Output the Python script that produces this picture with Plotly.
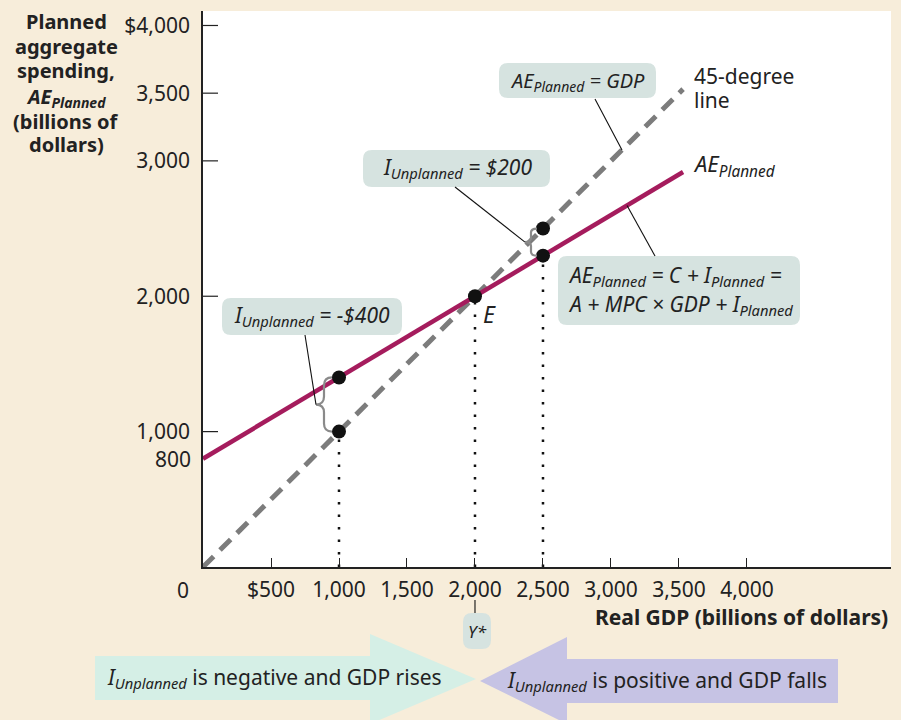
import plotly.graph_objects as go

# ---------------- data ----------------
line45_x = [0, 3530]
line45_y = [0, 3530]
ae_x = [0, 3530]
ae_y = [800, 2918]
point_x = [1000, 1000, 2000, 2500, 2500]
point_y = [1400, 1000, 2000, 2300, 2500]
drop_x = [1000, 2000, 2500]
drop_top = [1000, 2000, 2300]
ytick_vals = [1000, 2000, 3000, 3500, 4000]
ytick_text = ["1,000", "2,000", "3,000", "3,500", "$4,000"]
xtick_vals = [500, 1000, 1500, 2000, 2500, 3000, 3500, 4000]
xtick_text = ["$500", "1,000", "1,500", "2,000", "2,500", "3,000", "3,500", "4,000"]
brace_pairs = [(1000, 1000, 1400), (2500, 2300, 2500)]

# ---------------- layout geometry ----------------
W, H = 901, 720
L, R, T, B = 203, 891, 11, 567
XMAX = 5059
YMAX = 4107

FONT = "Noto Sans, Lato, sans-serif"
FS = 21
BG = "#f7edda"
BOX = "#d6e3e0"
MINT = "#d5efe6"
LAV = "#c6c3e4"
MAG = "#a51c5d"
GRAY = "#7c7c7c"
BRACE = "#8a8a8a"


def xp(px):
    return (px - L) / (R - L)


def yp(py):
    return (B - py) / (B - T)


def xd(x):
    return x / XMAX


def yd(y):
    return y / YMAX


def pxs(n):  # pixel length in x paper units
    return n / (R - L)


def pys(n):
    return n / (B - T)


def rrect(x0, y0, x1, y1, r=9):
    def P(x, y):
        return f"{xp(x):.5f},{yp(y):.5f}"
    return (f"M {P(x0 + r, y0)} L {P(x1 - r, y0)} Q {P(x1, y0)} {P(x1, y0 + r)} "
            f"L {P(x1, y1 - r)} Q {P(x1, y1)} {P(x1 - r, y1)} L {P(x0 + r, y1)} "
            f"Q {P(x0, y1)} {P(x0, y1 - r)} L {P(x0, y0 + r)} Q {P(x0, y0)} {P(x0 + r, y0)} Z")


def poly(pts):
    return "M " + " L ".join(f"{xp(x):.5f},{yp(y):.5f}" for x, y in pts) + " Z"


def brace(x, ya, yb, off):
    e, s, t, r = off
    X = xd(x)
    ya_, yb_ = yd(ya), yd(yb)
    ym = (ya_ + yb_) / 2
    xe, xs, xt = X - pxs(e), X - pxs(s), X - pxs(t)
    rr = pys(r)
    P = lambda a, b: f"{a:.5f},{b:.5f}"
    return (f"M {P(xe, yb_)} Q {P(xs, yb_)} {P(xs, yb_ - rr)} L {P(xs, ym + rr)} "
            f"Q {P(xs, ym)} {P(xt, ym)} Q {P(xs, ym)} {P(xs, ym - rr)} "
            f"L {P(xs, ya_ + rr)} Q {P(xs, ya_)} {P(xe, ya_)}")


fig = go.Figure()

fig.add_trace(go.Scatter(x=line45_x, y=line45_y, mode="lines",
                         line=dict(color=GRAY, width=5, dash="15px,9px"),
                         hoverinfo="skip", showlegend=False))
for x, yt in zip(drop_x, drop_top):
    fig.add_trace(go.Scatter(x=[x, x], y=[0, yt], mode="lines",
                             line=dict(color="#111", width=2.5, dash="2.5px,10px"),
                             hoverinfo="skip", showlegend=False))
fig.add_trace(go.Scatter(x=ae_x, y=ae_y, mode="lines",
                         line=dict(color=MAG, width=4.5),
                         hoverinfo="skip", showlegend=False))
fig.add_trace(go.Scatter(x=point_x, y=point_y, mode="markers",
                         marker=dict(color="#111", size=14),
                         hoverinfo="skip", showlegend=False))

shapes = []
# inside y tick marks
for v in ytick_vals:
    shapes.append(dict(type="line", xref="paper", yref="y", x0=0, x1=pxs(15), y0=v, y1=v,
                       line=dict(color="#222", width=1.2), layer="above"))

offs = {1000: (7, 15, 23, 8), 2500: (6, 12, 18, 4)}
for x, ya, yb in brace_pairs:
    shapes.append(dict(type="path", xref="paper", yref="paper",
                       path=brace(x, ya, yb, offs[x]),
                       line=dict(color=BRACE, width=2.2), layer="above"))

boxes = [(499, 63, 656, 98), (363, 150, 550, 187), (558, 256, 800, 325),
         (222, 298, 402, 335), (463, 613, 491, 649)]
for b in boxes:
    shapes.append(dict(type="path", xref="paper", yref="paper", path=rrect(*b),
                       fillcolor=BOX, line=dict(width=0), layer="above"))


def seg(x0, y0, x1, y1):
    shapes.append(dict(type="line", xref="paper", yref="paper",
                       x0=x0, y0=y0, x1=x1, y1=y1,
                       line=dict(color="#111", width=1.1), layer="above"))


seg(xp(595), yp(99), xd(3081), yd(3081))
seg(xp(455), yp(187), xd(2500) - pxs(18), yd(2400))
seg(xp(655), yp(256), xd(3118), yd(800 + 0.6 * 3118))
seg(xp(305), yp(335), xd(1000) - pxs(23), yd(1200))
seg(xd(2000), yp(600), xd(2000), yp(613))

shapes.append(dict(type="path", xref="paper", yref="paper", layer="below",
                   path=poly([(95, 656), (370, 656), (370, 634), (476, 679),
                              (370, 724), (370, 700), (95, 700)]),
                   fillcolor=MINT, line=dict(width=0)))
shapes.append(dict(type="path", xref="paper", yref="paper", layer="below",
                   path=poly([(838, 659), (567, 659), (567, 637), (480, 681),
                              (567, 724), (567, 703), (838, 703)]),
                   fillcolor=LAV, line=dict(width=0)))

ann = []


def text(x, y, s, size=FS, xanchor="center", yanchor="middle", align="center", color="#222"):
    ann.append(dict(x=x, y=y, xref="paper", yref="paper", text=s, showarrow=False,
                    xanchor=xanchor, yanchor=yanchor, align=align,
                    font=dict(family=FONT, size=size, color=color)))


PL = "<sub>Planned</sub>"
UN = "<sub>Unplanned</sub>"
text(xp(577), yp(81), f"<i>AE{PL} = GDP</i>", size=20)
text(xp(457), yp(168), f"<i>I{UN} = $200</i>")
text(xp(566), yp(276), f"<i>AE{PL} = C + I{PL} =</i>", xanchor="left", align="left")
text(xp(566), yp(305), f"<i>A + MPC × GDP + I{PL}</i>", xanchor="left", align="left")
text(xp(312), yp(316), f"<i>I{UN} = −$400</i>")
text(xp(477), yp(631), "<i>Y*</i>", size=17)
text(xp(692), yp(76), "45-degree", xanchor="left")
text(xp(692), yp(100), "line", xanchor="left")
text(xp(691), yp(165), f"<i>AE{PL}</i>", size=22, xanchor="left")
text(xp(481), yp(314), "<i>E</i>", size=23, xanchor="left")
text(xp(183), yp(590), "0")
text(xp(193), yd(800), "800", xanchor="right")
text(xp(890), yp(617), "<b>Real GDP (billions of dollars)</b>", xanchor="right")
title_lines = ["Planned", "aggregate", "spending,", "<i>AE</i><sub><i>Planned</i></sub>",
               "(billions of", "dollars)"]
title_y = [21, 46, 70, 97, 122, 145]
for s, y in zip(title_lines, title_y):
    text(xp(66), yp(y), f"<b>{s}</b>", size=20)
text(xp(274), yp(678), f"<i>I{UN}</i> is negative and GDP rises")
text(xp(667), yp(681), f"<i>I{UN}</i> is positive and GDP falls")

fig.update_layout(
    width=W, height=H,
    margin=dict(l=L, r=W - R, t=T, b=H - B, pad=0, autoexpand=False),
    paper_bgcolor=BG, plot_bgcolor="white",
    font=dict(family=FONT, size=FS, color="#222"),
    shapes=shapes, annotations=ann,
    xaxis=dict(range=[0, XMAX], showgrid=False, zeroline=False, showline=True,
               linecolor="#222", linewidth=1.5, ticks="inside", ticklen=9,
               tickcolor="#222", tickwidth=1.2, tickvals=xtick_vals, ticktext=xtick_text,
               tickfont=dict(family=FONT, size=FS, color="#222"), ticklabelstandoff=3),
    yaxis=dict(range=[0, YMAX], showgrid=False, zeroline=False, showline=True,
               linecolor="#222", linewidth=1.5, ticks="outside", ticklen=7,
               tickcolor="rgba(0,0,0,0)", tickwidth=1, tickvals=ytick_vals, ticktext=ytick_text,
               tickfont=dict(family=FONT, size=FS, color="#222")),
)

fig.write_html("out.html", config={"displayModeBar": False},
               post_script="document.body.style.margin='0';")
